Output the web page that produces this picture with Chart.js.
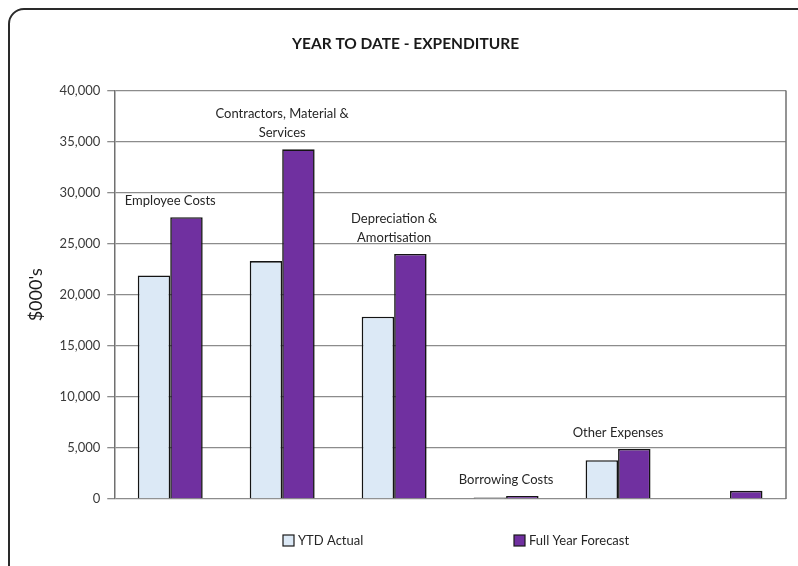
<!DOCTYPE html>
<html lang="en">
<head>
    <meta charset="UTF-8">
    <title>Year to Date - Expenditure</title>
    <script src="https://cdn.jsdelivr.net/npm/chart.js"></script>
    <style>
        body {
            margin: 0;
            padding: 0;
            background: #ffffff;
            overflow: hidden;
        }

        .wrap {
            position: relative;
            width: 798px;
            height: 566px;
            overflow: hidden;
        }

        /* rounded frame that runs off the right and bottom edge */
        .frame {
            position: absolute;
            left: 8px;
            top: 8px;
            width: 830px;
            height: 600px;
            border: 2px solid #2a2a2a;
            border-radius: 16px;
            pointer-events: none;
        }
    </style>
</head>
<body>
    <div class="wrap">
        <canvas id="expChart" width="798" height="566"></canvas>
        <div class="frame"></div>
    </div>

    <script>
        // Category names (shown above each group, not on the axis)
        const categories = [
            'Employee Costs',
            ['Contractors, Material &', 'Services'],
            ['Depreciation &', 'Amortisation'],
            'Borrowing Costs',
            'Other Expenses',
            ''
        ];

        // $000's
        const ytdActual = [21900, 23300, 17850, 150, 3800, -60];
        const fullYearForecast = [27600, 34250, 24000, 300, 4900, 800];

        const yTicks = [0, 5000, 10000, 15000, 20000, 25000, 30000, 35000, 40000];

        const FONT = "Lato, 'Open Sans', sans-serif";

        // draws the category names above the taller bar of each group
        const groupLabels = {
            id: 'groupLabels',
            afterDatasetsDraw(chart) {
                const ctx = chart.ctx;
                const metaA = chart.getDatasetMeta(0);
                const metaB = chart.getDatasetMeta(1);
                ctx.save();
                ctx.font = '13px ' + FONT;
                ctx.fillStyle = '#262626';
                ctx.textAlign = 'center';
                ctx.textBaseline = 'alphabetic';
                chart.data.labels.forEach((lab, i) => {
                    const lines = Array.isArray(lab) ? lab : [lab];
                    const a = metaA.data[i], b = metaB.data[i];
                    const x = (a.x + b.x) / 2;
                    const top = Math.min(a.y, b.y, a.base);
                    let y = top - 12;
                    for (let k = lines.length - 1; k >= 0; k--) {
                        ctx.fillText(lines[k], x, y);
                        y -= 19;
                    }
                });
                ctx.restore();
            }
        };

        // right border of the plot area + legend at the bottom
        const frameAndLegend = {
            id: 'frameAndLegend',
            afterDraw(chart) {
                const ctx = chart.ctx;
                const a = chart.chartArea;
                ctx.save();
                ctx.strokeStyle = '#707070';
                ctx.lineWidth = 1.5;
                ctx.beginPath();
                ctx.moveTo(a.right, a.top);
                ctx.lineTo(a.right, a.bottom);
                ctx.stroke();

                const xs = [283, 514];
                const y = 541;
                ctx.font = '13px ' + FONT;
                ctx.textBaseline = 'middle';
                ctx.textAlign = 'left';
                chart.data.datasets.forEach((ds, i) => {
                    ctx.fillStyle = ds.backgroundColor;
                    ctx.fillRect(xs[i], y - 6, 11, 11);
                    ctx.strokeStyle = '#1a1a1a';
                    ctx.lineWidth = 1.2;
                    ctx.strokeRect(xs[i], y - 6, 11, 11);
                    ctx.fillStyle = '#262626';
                    ctx.fillText(ds.label, xs[i] + 15, y);
                });
                ctx.restore();
            }
        };

        new Chart(document.getElementById('expChart'), {
            type: 'bar',
            data: {
                labels: categories,
                datasets: [
                    {
                        label: 'YTD Actual',
                        data: ytdActual,
                        backgroundColor: '#dce9f6',
                        borderColor: '#141414',
                        borderWidth: 1.6
                    },
                    {
                        label: 'Full Year Forecast',
                        data: fullYearForecast,
                        backgroundColor: '#7030a0',
                        borderColor: '#141414',
                        borderWidth: 1.6
                    }
                ]
            },
            options: {
                responsive: false,
                animation: false,
                categoryPercentage: 0.58,
                barPercentage: 1.0,
                layout: {
                    padding: { left: 25, right: 12, top: 35, bottom: 67 }
                },
                plugins: {
                    legend: { display: false },
                    tooltip: { enabled: false },
                    title: {
                        display: true,
                        text: 'YEAR TO DATE - EXPENDITURE',
                        color: '#1a1a1a',
                        font: { family: FONT, size: 15.5, weight: 'bold' },
                        padding: { top: 0, bottom: 37 }
                    }
                },
                scales: {
                    x: {
                        display: false
                    },
                    y: {
                        min: 0,
                        max: 40000,
                        afterBuildTicks(axis) {
                            axis.ticks = yTicks.map(v => ({ value: v }));
                        },
                        border: { display: true, color: '#707070', width: 1.5 },
                        grid: {
                            color: '#8c8c8c',
                            lineWidth: 1.3,
                            drawTicks: true,
                            tickLength: 7
                        },
                        ticks: {
                            color: '#3a3a3a',
                            padding: 7,
                            font: { family: FONT, size: 13 },
                            callback: v => v.toLocaleString('en-US')
                        },
                        title: {
                            display: true,
                            text: "$000's",
                            color: '#1a1a1a',
                            font: { family: FONT, size: 18 },
                            padding: { top: 0, bottom: 6 }
                        }
                    }
                }
            },
            plugins: [groupLabels, frameAndLegend]
        });
    </script>
</body>
</html>
